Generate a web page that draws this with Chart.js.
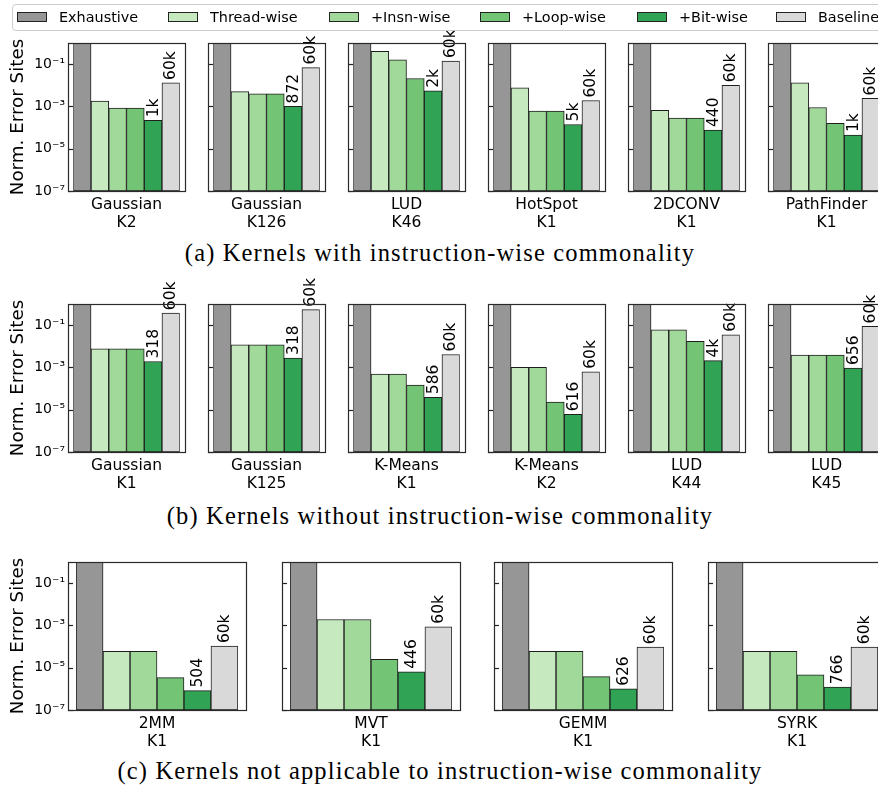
<!DOCTYPE html>
<html>
<head>
<meta charset="utf-8">
<script src="https://cdn.jsdelivr.net/npm/chart.js@4.4.1/dist/chart.umd.min.js"></script>
<style>
  html, body { margin: 0; padding: 0; background: #fff; }
  body { width: 878px; height: 792px; overflow: hidden; position: relative; font-family: "DejaVu Sans", sans-serif; }
  canvas.panel { position: absolute; }
  .caption { position: absolute; left: 0; width: 880px; text-align: center; font-family: "Liberation Serif", "Times New Roman", serif; font-size: 24.5px; letter-spacing: 1.15px; line-height: 1; color: #000; white-space: nowrap; }
  #legend { position: absolute; left: 12px; top: 4px; width: 900px; height: 27px; box-sizing: border-box; border: 1px solid #cccccc; border-radius: 4px; background: rgba(255,255,255,0.85); z-index: 10; font-size: 14.4px; color: #000; white-space: nowrap; }
  .swatch { position: absolute; top: 7px; width: 30px; height: 10px; box-sizing: border-box; border: 1px solid #222; }
  .ltext { position: absolute; top: 3px; line-height: 18px; }
</style>
</head>
<body>
<div id="legend"></div>
<script>
// ---- data ----
const seriesNames  = ['Exhaustive', 'Thread-wise', '+Insn-wise', '+Loop-wise', '+Bit-wise', 'Baseline'];
const seriesColors = ['#969696', '#c7e9c0', '#a1d99b', '#74c476', '#31a354', '#d9d9d9'];

const benchmarks = ['Gaussian', 'Gaussian', 'LUD', 'HotSpot', '2DCONV', 'PathFinder',
                    'Gaussian', 'Gaussian', 'K-Means', 'K-Means', 'LUD', 'LUD',
                    '2MM', 'MVT', 'GEMM', 'SYRK'];
const kernelIds  = ['K2', 'K126', 'K46', 'K1', 'K1', 'K1',
                    'K1', 'K125', 'K1', 'K2', 'K44', 'K45',
                    'K1', 'K1', 'K1', 'K1'];

const exhaustive = [1, 1, 1, 1, 1, 1,  1, 1, 1, 1, 1, 1,  1, 1, 1, 1];
const threadWise = [1.8e-3, 5.0e-3, 0.40, 7.5e-3, 6.6e-4, 1.3e-2,
                    7.6e-3, 1.18e-2, 4.8e-4, 1.0e-3, 6.0e-2, 3.8e-3,
                    6.0e-5, 1.9e-3, 6.0e-5, 6.0e-5];
const insnWise   = [8.3e-4, 3.9e-3, 0.16, 6.0e-4, 2.8e-4, 8.9e-4,
                    7.6e-3, 1.18e-2, 4.8e-4, 1.0e-3, 6.0e-2, 3.8e-3,
                    6.0e-5, 1.9e-3, 6.0e-5, 6.0e-5];
const loopWise   = [8.3e-4, 3.9e-3, 2.1e-2, 6.0e-4, 2.8e-4, 1.6e-4,
                    7.6e-3, 1.18e-2, 1.45e-4, 2.3e-5, 1.7e-2, 3.8e-3,
                    3.4e-6, 2.5e-5, 3.8e-6, 4.6e-6];
const bitWise    = [2.2e-4, 1.0e-3, 5.5e-3, 1.4e-4, 7.6e-5, 4.4e-5,
                    1.9e-3, 2.8e-3, 3.9e-5, 6.1e-6, 2.1e-3, 9.3e-4,
                    8.3e-7, 6.4e-6, 1.0e-6, 1.2e-6];
const baseline   = [1.3e-2, 6.9e-2, 0.14, 1.9e-3, 1.0e-2, 2.4e-3,
                    0.37, 0.54, 4.1e-3, 6.2e-4, 3.5e-2, 8.7e-2,
                    1.05e-4, 8.7e-4, 9.4e-5, 9.4e-5];

const bitSiteLabels      = ['1k', '872', '2k', '5k', '440', '1k',
                            '318', '318', '586', '616', '4k', '656',
                            '504', '446', '626', '766'];
const baselineSiteLabels = ['60k', '60k', '60k', '60k', '60k', '60k',
                            '60k', '60k', '60k', '60k', '60k', '60k',
                            '60k', '60k', '60k', '60k'];

const yTickValues = [1e-7, 1e-5, 1e-3, 1e-1];
const yTickLabels = ['10\u207B\u2077', '10\u207B\u2075', '10\u207B\u00B3', '10\u207B\u00B9'];

const captions = ['(a) Kernels with instruction-wise commonality',
                  '(b) Kernels without instruction-wise commonality',
                  '(c) Kernels not applicable to instruction-wise commonality'];

// ---- layout of the three rows of panels ----
const rows = [
  { top: 43,  height: 148, width: 117, lefts: [68, 208, 348, 488, 628, 768], first: 0,  captionTop: 241 },
  { top: 304, height: 148, width: 117, lefts: [68, 208, 348, 488, 628, 768], first: 6,  captionTop: 504 },
  { top: 562, height: 148, width: 178, lefts: [68, 282, 494, 708],           first: 12, captionTop: 759 }
];
const PAD_L = 68, PAD_T = 45, PAD_B = 40, PAD_R = 12;
const legendSwatchLefts = [4, 155, 316, 467, 624, 763];

Chart.defaults.font.family = '"DejaVu Sans", sans-serif';
Chart.defaults.color = '#000';

// legend
const legendEl = document.getElementById('legend');
seriesNames.forEach((name, i) => {
  const sw = document.createElement('div');
  sw.className = 'swatch';
  sw.style.left = legendSwatchLefts[i] + 'px';
  sw.style.background = seriesColors[i];
  const tx = document.createElement('span');
  tx.className = 'ltext';
  tx.style.left = (legendSwatchLefts[i] + 42) + 'px';
  tx.textContent = name;
  legendEl.appendChild(sw);
  legendEl.appendChild(tx);
});

// captions
rows.forEach((r, k) => {
  const c = document.createElement('div');
  c.className = 'caption';
  c.style.top = r.captionTop + 'px';
  c.textContent = captions[k];
  document.body.appendChild(c);
});

// frame, inward ticks and site-count labels for each panel
const panelDecor = {
  id: 'panelDecor',
  afterDraw(chart) {
    const { ctx, chartArea: a } = chart;
    const idx = chart.options.plugins.panelDecor.index;
    const w = a.right - a.left;
    const fl = a.left - w * 0.05, fr = a.right + w * 0.05;
    const y = chart.scales.y;
    ctx.save();
    // tick marks pointing into the panel
    ctx.strokeStyle = '#222';
    ctx.lineWidth = 1.2;
    yTickValues.forEach(v => {
      const py = Math.round(y.getPixelForValue(v)) + 0.5;
      ctx.beginPath();
      ctx.moveTo(fl, py);
      ctx.lineTo(fl + 5, py);
      ctx.stroke();
    });
    // site counts above the +Bit-wise and Baseline bars
    const meta = chart.getDatasetMeta(0);
    ctx.fillStyle = '#000';
    ctx.font = '15.5px "DejaVu Sans", sans-serif';
    ctx.textAlign = 'left';
    ctx.textBaseline = 'middle';
    [[4, bitSiteLabels[idx]], [5, baselineSiteLabels[idx]]].forEach(([bi, txt]) => {
      const el = meta.data[bi];
      ctx.save();
      ctx.translate(el.x + 0.5, el.y - 3);
      ctx.rotate(-Math.PI / 2);
      ctx.fillText(txt, 0, 0);
      ctx.restore();
    });
    // axes frame
    ctx.strokeStyle = '#2a2a2a';
    ctx.lineWidth = 1.2;
    ctx.strokeRect(Math.round(fl) + 0.5, Math.round(a.top) + 0.5,
                   Math.round(fr) - Math.round(fl), Math.round(a.bottom) - Math.round(a.top));
    ctx.restore();
  }
};

rows.forEach(r => {
  r.lefts.forEach((left, j) => {
    const idx = r.first + j;
    const isFirst = j === 0;
    const inset = r.width / 22;
    const cv = document.createElement('canvas');
    cv.className = 'panel';
    cv.width = PAD_L + r.width + PAD_R;
    cv.height = PAD_T + r.height + PAD_B;
    cv.style.left = (left - PAD_L) + 'px';
    cv.style.top = (r.top - PAD_T) + 'px';
    document.body.appendChild(cv);

    new Chart(cv, {
      type: 'bar',
      data: {
        labels: seriesNames,
        datasets: [{
          data: [exhaustive[idx], threadWise[idx], insnWise[idx], loopWise[idx], bitWise[idx], baseline[idx]],
          backgroundColor: seriesColors,
          borderColor: '#1e1e1e',
          borderWidth: 1,
          borderSkipped: false,
          barPercentage: 1,
          categoryPercentage: 1
        }]
      },
      options: {
        responsive: false,
        animation: false,
        devicePixelRatio: 1,
        layout: { padding: { left: 0, top: PAD_T, right: PAD_R + inset, bottom: 0 } },
        plugins: {
          legend: { display: false },
          tooltip: { enabled: false },
          panelDecor: { index: idx }
        },
        scales: {
          x: {
            type: 'category',
            offset: true,
            grid: { display: false, drawTicks: false },
            border: { display: false },
            ticks: { display: false },
            afterFit: s => { s.height = PAD_B; },
            title: {
              display: true,
              text: [benchmarks[idx], kernelIds[idx]],
              font: { size: 15.5, lineHeight: 1.1 },
              color: '#000',
              padding: { top: 0, bottom: 0 }
            }
          },
          y: {
            type: 'logarithmic',
            min: 1e-7,
            max: 1,
            grid: { display: false, drawTicks: false },
            border: { display: false },
            afterBuildTicks: s => { s.ticks = yTickValues.map(v => ({ value: v })); },
            afterFit: s => { s.width = PAD_L + inset; },
            ticks: {
              display: isFirst,
              autoSkip: false,
              padding: inset + 3,
              font: { size: 14 },
              color: '#000',
              callback: (v, i) => yTickLabels[i]
            },
            title: {
              display: isFirst,
              text: 'Norm. Error Sites',
              font: { size: 18.3 },
              color: '#000',
              padding: { top: 7, bottom: 0 }
            }
          }
        }
      },
      plugins: [panelDecor]
    });
  });
});
</script>
</body>
</html>
